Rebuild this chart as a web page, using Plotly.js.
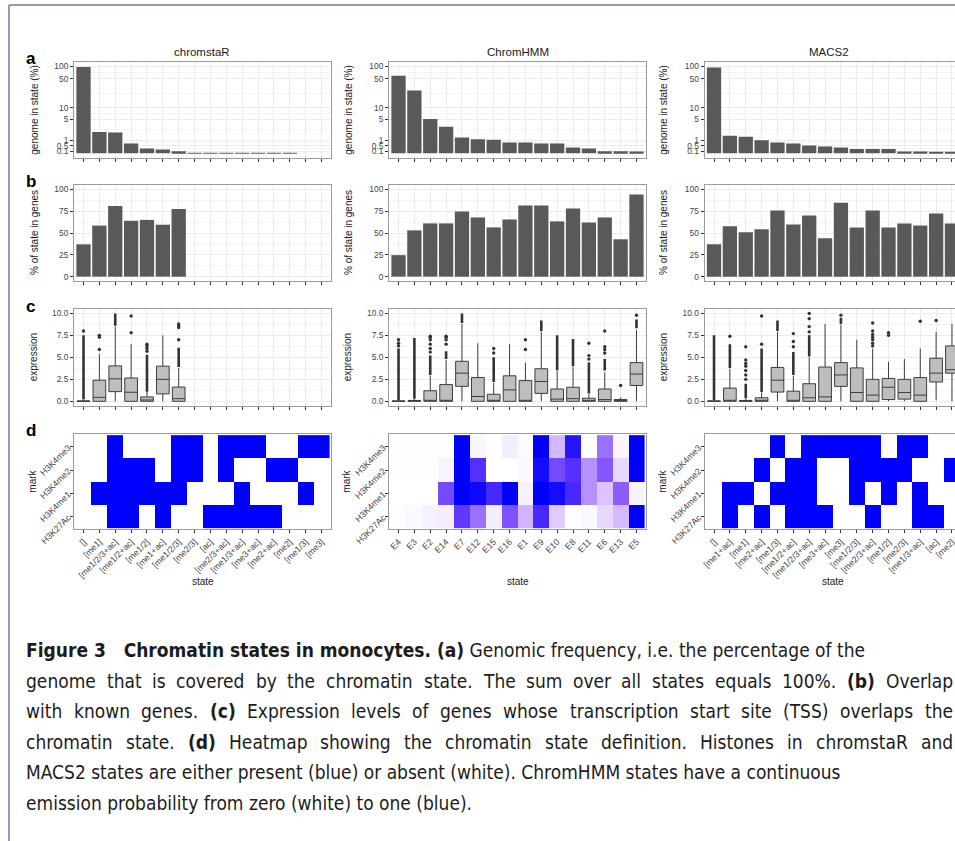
<!DOCTYPE html>
<html><head><meta charset="utf-8">
<script src="https://cdn.plot.ly/plotly-3.0.1.min.js"></script>
<style>html,body{margin:0;padding:0;overflow:hidden;background:#fff}#chart{width:975px;height:841px}</style>
</head><body><div id="chart"></div><script>
// ---------------- data ----------------
const marks = ['H3K27Ac','H3K4me1','H3K4me2','H3K4me3'];
const genomeTicks = [0.1, 0.5, 1, 5, 10, 50, 100];
const genomeTickText = ['0.1','0.5','1','5','10','50','100'];
const genesTicks = [0, 25, 50, 75, 100];
const exprTicks = [0, 2.5, 5, 7.5, 10];
const exprTickText = ['0.0','2.5','5.0','7.5','10.0'];

// chromstaR
const csStates = ['[]','[me1]','[me1/2/3+ac]','[me1/2+ac]','[me1/2]','[me1+ac]','[me1/2/3]','[me2/3]','[ac]','[me2/3+ac]','[me1/3+ac]','[me3+ac]','[me2+ac]','[me2]','[me1/3]','[me3]'];
const csGenome = [95, 2.1, 2.0, 0.68, 0.30, 0.23, 0.11, 0.02, 0.02, 0.02, 0.02, 0.02, 0.02, 0.02, 0, 0];
const csGenes = [37, 58.5, 81, 64, 65, 59.5, 77.5, null, null, null, null, null, null, null, null, null];
const csQ1 = [0, 0, 1.1, 0, 0, 0.84, 0];
const csMed = [0, 0.45, 2.55, 1.03, 0.15, 2.5, 0.3];
const csQ3 = [0.05, 2.4, 4.03, 2.65, 0.5, 4.0, 1.62];
const csLo = [0, 0, 0, 0, 0, 0, 0];
const csHi = [0.12, 5.4, 8.5, 6.5, 1.1, 7.5, 3.8];
const csDenseLo = [0.2, null, 8.6, null, 1.1, null, 3.9];
const csDenseHi = [7.5, null, 10.0, null, 5.3, null, 6.1];
const csOutX = [0, 1, 1, 1, 3, 3, 4, 4, 4, 4, 6, 6, 6, 6];
const csOutY = [8.0, 5.9, 7.3, 7.5, 7.8, 9.7, 5.7, 6.0, 6.3, 6.5, 7.0, 8.4, 8.6, 8.8];
const csAc  = [0,0,1,1,0,1,0,0,1,1,1,1,1,0,0,0];
const csMe1 = [0,1,1,1,1,1,1,0,0,0,1,0,0,0,1,0];
const csMe2 = [0,0,1,1,1,0,1,1,0,1,0,0,1,1,0,0];
const csMe3 = [0,0,1,0,0,0,1,1,0,1,1,1,0,0,1,1];

// ChromHMM
const hmmStates = ['E4','E3','E2','E14','E7','E12','E15','E16','E1','E9','E10','E8','E11','E6','E13','E5'];
const hmmGenome = [59.5, 26.8, 5.15, 3.06, 1.3, 1.1, 1.05, 0.77, 0.77, 0.68, 0.68, 0.37, 0.30, 0.11, 0.11, 0.10];
const hmmGenes = [24.6, 53, 61, 61, 74.6, 67.8, 56.4, 65.5, 81.4, 81.4, 63.3, 78, 62, 67.8, 42.8, 94];
const hmmQ1 = [0, 0, 0, 0, 1.7, 0, 0, 0, 0, 0.9, 0, 0, 0, 0, 0, 1.8];
const hmmMed = [0, 0.05, 0.1, 0.1, 3.2, 0.55, 0.05, 1.3, 0.1, 2.25, 0.25, 0.3, 0.05, 0.2, 0.1, 3.1];
const hmmQ3 = [0.05, 0.1, 1.2, 1.9, 4.55, 2.7, 0.8, 2.9, 2.35, 3.7, 1.4, 1.6, 0.35, 1.4, 0.2, 4.4];
const hmmLo = [0, 0, 0, 0, 0, 0, 0, 0, 0, 0, 0, 0, 0, 0, 0, 0];
const hmmHi = [0.12, 0.25, 2.9, 4.7, 8.8, 6.6, 2.1, 6.5, 4.4, 7.9, 3.4, 3.9, 0.85, 3.3, 0.45, 8.1];
const hmmDenseLo = [0.15, 0.3, 3.0, 4.8, 8.9, null, 2.2, null, null, 8.0, 3.5, 4.0, 0.9, 3.5, null, 8.3];
const hmmDenseHi = [6.0, 7.2, 5.2, 5.7, 10.0, null, 5.0, null, null, 9.2, 7.5, 7.1, 4.4, 4.8, null, 9.3];
const hmmOutX = [0,0,0, 2,2,2,2,2,2, 3,3,3,3, 6,6, 8,8, 12,12,12, 13,13,13,13, 14, 15];
const hmmOutY = [6.3,6.6,7.0, 5.6,6.0,6.5,7.0,7.3,7.4, 6.5,7.0,7.3,7.4, 5.5,6.0, 5.9,7.0, 4.8,5.2,6.6, 5.5,5.9,6.2,8.0, 1.8, 9.8];
const hmmAc  = [0.01,0.03,0.06,0.08,0.85,0.62,0.08,0.75,0.32,0.9,0.22,0.0,0.03,0.17,0.3,1.0];
const hmmMe1 = [0,0,0,0.78,1.0,0.98,0.9,1.0,0.06,1.0,0.97,0.9,0.48,0.25,0.7,0.05];
const hmmMe2 = [0.01,0.01,0.01,0.05,1.0,0.88,0.0,0.0,0.03,0.97,0.78,0.88,0.48,0.72,0.17,1.0];
const hmmMe3 = [0.01,0.01,0.01,0.01,1.0,0.04,0.01,0.08,0.02,1.0,0.3,0.95,0.0,0.62,0.04,1.0];

// MACS2
const macsStates = ['[]','[me1+ac]','[me1]','[me2+ac]','[me1/3]','[me1/2+ac]','[me1/2/3+ac]','[me3+ac]','[me3]','[me1/2/3]','[me2/3+ac]','[me1/2]','[me2/3]','[me1/3+ac]','[ac]','[me2]'];
const macsGenome = [92, 1.55, 1.42, 1.0, 0.77, 0.68, 0.51, 0.44, 0.37, 0.25, 0.25, 0.25, 0.1, 0.1, 0.05, 0.05];
const macsGenes = [37, 57.6, 50.8, 54.2, 75.8, 59.8, 70, 44, 84.8, 56.4, 75.8, 56.4, 61, 58.7, 72.3, 61];
const macsQ1 = [0, 0, 0, 0, 1.05, 0, 0, 0, 1.7, 0, 0, 0.2, 0.25, 0, 2.2, 3.2];
const macsMed = [0, 0.1, 0.02, 0.05, 2.4, 0.1, 0.4, 0.5, 3.0, 1.0, 0.7, 1.6, 1.0, 0.7, 3.2, 3.6];
const macsQ3 = [0.05, 1.5, 0.1, 0.4, 3.85, 1.15, 2.0, 3.9, 4.4, 3.8, 2.5, 2.6, 2.5, 2.7, 4.9, 6.3];
const macsLo = [0, 0, 0, 0, 0, 0, 0, 0, 0, 0, 0, 0, 0, 0, 0.1, 0];
const macsHi = [0.12, 3.7, 0.3, 1.0, 7.9, 2.9, 5.0, 8.8, 8.7, 7.0, 6.0, 4.5, 4.8, 6.0, 7.9, 8.8];
const macsDenseLo = [0.15, 3.8, 0.35, 1.05, 8.0, 3.0, 5.1, null, 8.8, null, null, null, null, null, null, null];
const macsDenseHi = [7.5, 6.5, 2.0, 6.0, 9.2, 5.6, 7.5, null, 9.5, null, null, null, null, null, null, null];
const macsOutX = [1, 2,2,2,2,2,2,2, 3,3, 5,5,5, 6,6,6,6, 8, 10,10,10,10,10,10,10, 11,11, 13, 14];
const macsOutY = [7.4, 2.5,3.0,3.5,4.0,4.3,4.7,6.2, 6.5,9.7, 6.2,6.8,7.7, 7.9,8.5,9.4,10.0, 9.8, 6.3,6.6,7.0,7.3,7.6,8.0,8.9, 7.5,7.8, 9.1, 9.2];
const macsAc  = [0,1,0,1,0,1,1,1,0,0,1,0,0,1,1,0];
const macsMe1 = [0,1,1,0,1,1,1,0,0,1,0,1,0,1,0,0];
const macsMe2 = [0,0,0,1,0,1,1,0,0,1,1,1,1,0,0,1];
const macsMe3 = [0,0,0,0,1,0,1,1,1,1,1,0,1,1,0,0];

const captionLines = [
  '<b>Figure 3\u00a0\u00a0\u00a0Chromatin states in monocytes. (a)</b> Genomic frequency, i.e. the percentage of the',
  'genome that is covered by the chromatin state. The sum over all states equals 100%. <b>(b)</b> Overlap',
  'with known genes. <b>(c)</b> Expression levels of genes whose transcription start site (TSS) overlaps the',
  'chromatin state. <b>(d)</b> Heatmap showing the chromatin state definition. Histones in chromstaR and',
  'MACS2 states are either present (blue) or absent (white). ChromHMM states have a continuous',
  'emission probability from zero (white) to one (blue).'
];
const captionJustify = [false, true, true, true, false, false];

// ---------------- layout helpers ----------------
const W = 975, H = 841;
const px = x => x / W, py = y => 1 - y / H;
const colX = [[74, 331], [389, 646], [704.5, 961.5]];
const rowY = [[61.7, 157.7], [185, 281], [309, 405.7], [434, 529.3]];
const FONT = 'Liberation Sans, Arial, sans-serif';
const GRID = '#EBEBEB', MINOR = '#F5F5F5', BORDER = '#9A9A9A', TICK = '#333333', TICKTXT = '#444444';

const panels = [
  {title:'chromstaR', states:csStates, genome:csGenome, genes:csGenes, q1:csQ1, med:csMed, q3:csQ3, lo:csLo, hi:csHi, dLo:csDenseLo, dHi:csDenseHi, oX:csOutX, oY:csOutY, z:[csAc,csMe1,csMe2,csMe3], binary:true, titleX:202},
  {title:'ChromHMM', states:hmmStates, genome:hmmGenome, genes:hmmGenes, q1:hmmQ1, med:hmmMed, q3:hmmQ3, lo:hmmLo, hi:hmmHi, dLo:hmmDenseLo, dHi:hmmDenseHi, oX:hmmOutX, oY:hmmOutY, z:[hmmAc,hmmMe1,hmmMe2,hmmMe3], binary:false, titleX:517.5},
  {title:'MACS2', states:macsStates, genome:macsGenome, genes:macsGenes, q1:macsQ1, med:macsMed, q3:macsQ3, lo:macsLo, hi:macsHi, dLo:macsDenseLo, dHi:macsDenseHi, oX:macsOutX, oY:macsOutY, z:[macsAc,macsMe1,macsMe2,macsMe3], binary:true, titleX:829}
];

const labScale = [[0,'#FFFFFF'],[0.125,'rgb(238,226,255)'],[0.25,'rgb(220,196,255)'],[0.375,'rgb(200,168,255)'],[0.5,'rgb(179,139,255)'],[0.625,'rgb(155,111,255)'],[0.75,'rgb(126,81,255)'],[0.875,'rgb(89,50,255)'],[1,'#0000FF']];
const binScale = [[0,'#FFFFFF'],[1,'#0000FF']];

const lg = v => Math.log10(v + 1);
const mid = a => a.slice(1).map((v, i) => (v + a[i]) / 2);

const traces = [];
const layout = {
  width: W, height: H, margin: {l:0, r:0, t:0, b:0},
  paper_bgcolor: '#fff', plot_bgcolor: '#fff', showlegend: false,
  font: {family: FONT, color: '#1a1a1a'},
  annotations: [], shapes: []
};

const rowCfg = [
  {range:[-0.1, 2.104], tickvals: genomeTicks.map(lg), ticktext: genomeTickText, minor: mid(genomeTicks.map(lg))},
  {range:[-5, 105], tickvals: genesTicks, ticktext: genesTicks.map(String), minor: mid(genesTicks)},
  {range:[-0.5, 10.5], tickvals: exprTicks, ticktext: exprTickText, minor: mid(exprTicks)},
  {range:[-0.55, 3.55], tickvals: [0,1,2,3], ticktext: marks, minor: []}
];
const yTitles = ['genome in state (%)', '% of state in genes', 'expression', 'mark'];
const yTitleX = [[35, 349, 664], [35, 349, 664], [33, 347, 663], [33, 347, 663]];

panels.forEach((P, c) => {
  const idx = P.states.map((_, i) => i);
  for (let r = 0; r < 4; r++) {
    const k = r * 3 + c + 1;
    const xr = 'x' + k, yr = 'y' + k;
    const tf = {size: r === 3 ? 8.8 : 8.4, color: TICKTXT, family: FONT};
    layout['xaxis' + k] = {
      domain: [px(colX[c][0]), px(colX[c][1])], anchor: yr,
      range: [-0.6, 15.6], tickmode: 'array', tickvals: idx, ticktext: P.states,
      showticklabels: r === 3, tickangle: -45, tickfont: tf,
      ticks: 'outside', ticklen: 3, tickwidth: 1, tickcolor: TICK,
      showgrid: r !== 3, gridcolor: GRID, gridwidth: 1, zeroline: false,
      showline: true, mirror: true, linecolor: BORDER, linewidth: 1, fixedrange: true
    };
    const rc = rowCfg[r];
    layout['yaxis' + k] = {
      domain: [py(rowY[r][1]), py(rowY[r][0])], anchor: xr,
      range: rc.range, tickmode: 'array', tickvals: rc.tickvals, ticktext: rc.ticktext,
      tickangle: r === 3 ? -45 : 0, tickfont: tf,
      ticks: 'outside', ticklen: 3, tickwidth: 1, tickcolor: TICK,
      showgrid: r !== 3, gridcolor: GRID, gridwidth: 1, zeroline: false,
      minor: {tickmode: 'array', tickvals: rc.minor, showgrid: r !== 3, gridcolor: MINOR, gridwidth: 1, ticks: ''},
      showline: true, mirror: true, linecolor: BORDER, linewidth: 1, fixedrange: true
    };
    layout.annotations.push({
      xref: 'paper', yref: 'paper', x: px(yTitleX[r][c]), y: py((rowY[r][0] + rowY[r][1]) / 2),
      text: yTitles[r], textangle: -90, showarrow: false, xanchor: 'center', yanchor: 'middle',
      font: {size: 10, family: FONT, color: '#1a1a1a'}
    });
    if (r === 0) {
      traces.push({type: 'bar', x: idx, y: P.genome.map(lg), width: 0.9, marker: {color: '#595959', line: {width: 0}}, xaxis: xr, yaxis: yr, hoverinfo: 'skip'});
    } else if (r === 1) {
      traces.push({type: 'bar', x: idx, y: P.genes, width: 0.9, marker: {color: '#595959', line: {width: 0}}, xaxis: xr, yaxis: yr, hoverinfo: 'skip'});
    } else if (r === 2) {
      const bx = P.q1.map((_, i) => i);
      traces.push({type: 'box', x: bx, q1: P.q1, median: P.med, q3: P.q3, lowerfence: P.lo, upperfence: P.hi,
        width: 0.8, fillcolor: '#BEBEBE', line: {color: '#3D3D3D', width: 1}, whiskerwidth: 0, boxpoints: false,
        xaxis: xr, yaxis: yr, hoverinfo: 'skip'});
      const dx = [], dy = [];
      P.dLo.forEach((lo, i) => { if (lo !== null) { dx.push(i, i, null); dy.push(lo, P.dHi[i], null); } });
      traces.push({type: 'scatter', mode: 'lines', x: dx, y: dy, line: {color: '#333333', width: 2.6}, xaxis: xr, yaxis: yr, hoverinfo: 'skip'});
      traces.push({type: 'scatter', mode: 'markers', x: P.oX, y: P.oY, marker: {color: '#333333', size: 3.4}, xaxis: xr, yaxis: yr, hoverinfo: 'skip'});
    } else {
      traces.push({type: 'heatmap', x: idx, y: [0,1,2,3], z: P.z, zmin: 0, zmax: 1,
        colorscale: P.binary ? binScale : labScale, showscale: false, xaxis: xr, yaxis: yr, hoverinfo: 'skip'});
    }
  }
  layout.annotations.push({xref: 'paper', yref: 'paper', x: px(P.titleX), y: py(52), text: P.title, showarrow: false,
    xanchor: 'center', yanchor: 'middle', font: {size: 11.5, family: FONT, color: '#1a1a1a'}});
  layout.annotations.push({xref: 'paper', yref: 'paper', x: px((colX[c][0] + colX[c][1]) / 2), y: py(581), text: 'state', showarrow: false,
    xanchor: 'center', yanchor: 'middle', font: {size: 10, family: FONT, color: '#1a1a1a'}});
});

// panel letters
[['a', 58], ['b', 182], ['c', 306], ['d', 430]].forEach(([t, y]) => {
  layout.annotations.push({xref: 'paper', yref: 'paper', x: px(30.5), y: py(y), text: '<b>' + t + '</b>', showarrow: false,
    xanchor: 'center', yanchor: 'middle', font: {size: 17, family: FONT, color: '#000'}});
});

// caption (lines 2-4 run to the right margin, as in the reference)
const CAP_FONT = "'DejaVu Sans Condensed', 'Liberation Sans', sans-serif";
const CAP_SIZE = 19, CAP_LEFT = 25, CAP_RIGHT = 952;
const capY = [650, 680.5, 711, 741.5, 772, 802.5];
const ctx = document.createElement('canvas').getContext('2d');
const measure = (w, b) => { ctx.font = (b ? 'bold ' : '') + CAP_SIZE + 'px ' + CAP_FONT; return ctx.measureText(w).width; };
function tokenize(line) {
  const out = []; let bold = false, cur = '', curBold = false;
  line.split(/(<b>|<\/b>)/).forEach(p => {
    if (p === '<b>') { bold = true; return; }
    if (p === '</b>') { bold = false; return; }
    p.split(' ').forEach((w, j) => {
      if (j > 0 && cur) { out.push({w: cur, b: curBold}); cur = ''; }
      if (w) { if (!cur) curBold = bold; cur += w; }
    });
  });
  if (cur) out.push({w: cur, b: curBold});
  return out;
}
const capFontObj = {size: CAP_SIZE, family: CAP_FONT, color: '#1c1c1c'};
captionLines.forEach((t, i) => {
  if (!captionJustify[i]) {
    layout.annotations.push({xref: 'paper', yref: 'paper', x: px(CAP_LEFT), y: py(capY[i]), text: t, showarrow: false,
      xanchor: 'left', yanchor: 'middle', borderpad: 0, font: capFontObj});
    return;
  }
  const toks = tokenize(t);
  const widths = toks.map(o => measure(o.w, o.b));
  const total = widths.reduce((a, b) => a + b, 0);
  const gap = (CAP_RIGHT - CAP_LEFT - total) / (toks.length - 1);
  let x = CAP_LEFT;
  toks.forEach((o, j) => {
    layout.annotations.push({xref: 'paper', yref: 'paper', x: px(x), y: py(capY[i]), text: o.b ? '<b>' + o.w + '</b>' : o.w,
      showarrow: false, xanchor: 'left', yanchor: 'middle', borderpad: 0, font: capFontObj});
    x += widths[j] + gap;
  });
});

// page frame
layout.shapes.push({type: 'line', xref: 'paper', yref: 'paper', x0: px(9), x1: 1, y0: py(5), y1: py(5), line: {color: '#6A7CA4', width: 1.5}});
layout.shapes.push({type: 'line', xref: 'paper', yref: 'paper', x0: px(9), x1: px(9), y0: py(5), y1: 0, line: {color: '#6A7CA4', width: 1.5}});

Plotly.newPlot('chart', traces, layout, {displayModeBar: false, responsive: false});
</script></body></html>
